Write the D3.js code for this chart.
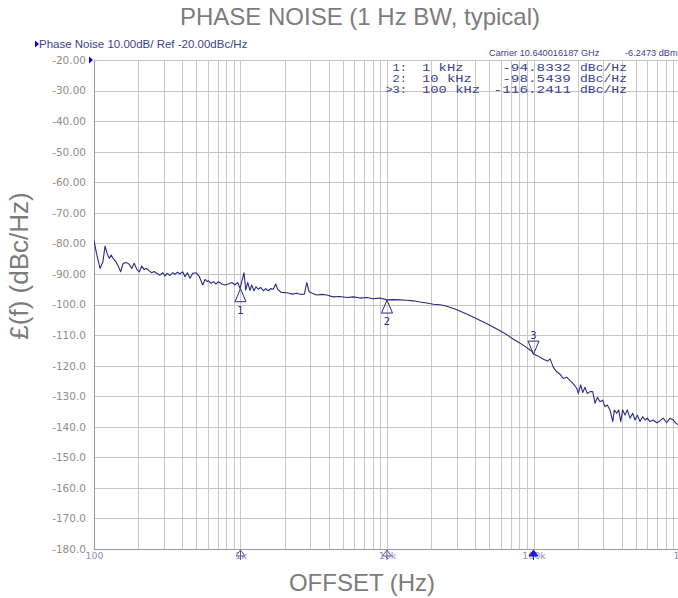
<!DOCTYPE html>
<html>
<head>
<meta charset="utf-8">
<script src="https://cdn.jsdelivr.net/npm/d3@7"></script>
<style>
  body { margin: 0; background: #fff; }
  svg { display: block; }
</style>
</head>
<body>
<div id="chart"></div>
<script>
"use strict";

/* ── Data ── */
const offsetHz = [
  100, 104, 110, 115, 119, 123, 127, 131, 135, 141, 147, 152, 158, 167, 174, 181, 188, 196, 204, 212,
  219, 229, 238, 248, 257, 268, 282, 295, 305, 316, 330, 345, 357, 371, 386, 403, 418, 434, 452, 472,
  497, 524, 552, 573, 593,
  603, 629, 652, 681, 705, 744, 784, 826, 871, 917, 957, 993, 1019, 1057, 1086, 1120, 1161, 1192, 1236, 1276,
  1324, 1374, 1432, 1487, 1549, 1607, 1675, 1738, 1795, 1890, 2012, 2143, 2259, 2421, 2590, 2729, 2834, 2938,
  3092, 3313, 3583,
  3875, 4297, 4775, 5309, 5888, 6546, 7261, 8072, 8954, 9840, 10000, 11040, 12270, 13620, 15140, 16790,
  18670, 20720, 23010,
  24890, 29110, 34040, 39900, 46670, 54580, 63830, 74820, 85110, 97260, 100000, 107900, 116700, 125000,
  129700, 136500, 143900, 151700, 159600, 168500, 177500, 187100, 197200, 202300, 209900, 216700, 224900,
  232800, 243200, 253500, 263000, 272900, 284400, 296500, 307600, 319100, 332700, 347500, 356500, 369800,
  381900, 393600, 406400, 421700, 436500, 456000, 475400, 493200, 511400, 533300, 555900, 576800, 598300,
  623700, 657700, 693400, 729800, 769000, 811000, 855100, 899500, 939700, 984000
];
const noiseDbc = [
  -79.0, -83.3, -88.2, -86.0, -80.9, -83.3, -84.9, -83.8, -84.9, -86.0, -87.6, -89.3, -86.5, -86.3, -86.8, -88.2, -86.5, -88.5, -89.3, -87.4,
  -88.5, -88.2, -89.0, -89.6, -89.2, -89.8, -90.4, -89.6, -90.7, -89.8, -90.5, -89.6, -90.1, -89.4, -90.0, -89.3, -90.9, -89.6, -91.4, -89.8,
  -89.6, -90.9, -93.6, -91.8, -92.5,
  -92.2, -93.1, -92.5, -93.3, -92.5, -93.3, -93.6, -93.3, -92.8, -93.6, -92.8, -94.8, -92.6, -89.6, -95.3, -92.8, -95.4, -93.6, -95.5, -94.2,
  -95.0, -94.4, -95.5, -94.8, -95.5, -94.8, -95.0, -93.3, -95.0, -96.0, -96.1, -96.3, -96.6, -96.3, -96.7, -96.6, -92.8, -95.8,
  -96.3, -96.9, -96.7,
  -96.9, -97.5, -97.4, -97.7, -97.5, -97.9, -97.7, -98.1, -97.9, -98.4, -98.5, -98.4, -98.5, -98.6, -98.8, -99.2,
  -99.5, -99.9, -100.1,
  -100.4, -101.5, -102.9, -104.4, -106.0, -107.7, -109.5, -111.7, -113.3, -115.3, -116.2, -116.9, -117.9, -118.5,
  -117.8, -120.5, -122.0, -122.8, -124.2, -123.8, -124.9, -126.0, -127.4, -129.1, -126.3, -128.8, -127.1,
  -129.1, -128.5, -128.5, -132.3, -130.4, -131.8, -131.3, -133.4, -132.9, -134.5, -138.3, -134.5, -135.6,
  -134.5, -138.3, -134.5, -136.2, -134.5, -137.2, -135.6, -137.8, -136.2, -138.3, -136.7, -137.8, -137.2,
  -138.3, -137.8, -138.7, -138.1, -137.2, -138.7, -137.2, -137.8, -138.9, -139.5
];

const yTicks      = [-20, -30, -40, -50, -60, -70, -80, -90, -100, -110, -120, -130, -140, -150, -160, -170, -180];
const yTickLabels = ["-20.00", "-30.00", "-40.00", "-50.00", "-60.00", "-70.00", "-80.00", "-90.00",
                     "-100.0", "-110.0", "-120.0", "-130.0", "-140.0", "-150.0", "-160.0", "-170.0", "-180.0"];
const xTicks      = [100, 1000, 10000, 100000, 1000000];
const xTickLabels = ["100", "1k", "10k", "100k", "1M"];

const markerIds       = ["1", "2", "3"];
const markerRowLabels = ["1:", "2:", ">3:"];
const markerHz        = [1000, 10000, 100000];
const markerFreqText  = ["1 kHz", "10 kHz", "100 kHz"];
const markerDbc       = [-94.8332, -98.5439, -116.2411];

/* ── Layout ── */
const W = 678, H = 598;
const plot = { left: 94, right: 680, top: 60, bottom: 549 };
const navy = "#2b2b80";
const sans = "'Liberation Sans', Arial, sans-serif";
const inst = "'DejaVu Sans', Verdana, sans-serif";
const mono = "'Liberation Mono', 'Courier New', monospace";

const svg = d3.select("#chart").append("svg")
  .attr("width", W).attr("height", H)
  .style("background", "#fff");

/* ── Scales ── */
const x = d3.scaleLog().domain([100, 1e6]).range([plot.left, plot.right]);
const y = d3.scaleLinear().domain([-180, -20]).range([plot.bottom, plot.top]);

/* ── Grid ── */
const grid = svg.append("g").attr("shape-rendering", "crispEdges");
grid.selectAll(".vgrid").data(x.ticks()).join("line")
  .attr("class", "vgrid")
  .attr("x1", d => Math.round(x(d)) + 0.5).attr("x2", d => Math.round(x(d)) + 0.5)
  .attr("y1", plot.top).attr("y2", plot.bottom)
  .attr("stroke", "#c8c8c8");
grid.selectAll(".hgrid").data(yTicks).join("line")
  .attr("class", "hgrid")
  .attr("x1", plot.left).attr("x2", plot.right)
  .attr("y1", d => Math.round(y(d)) + 0.5).attr("y2", d => Math.round(y(d)) + 0.5)
  .attr("stroke", "#c4c4c4");

/* frame: left + bottom a bit darker */
grid.append("line")
  .attr("x1", plot.left + 0.5).attr("x2", plot.left + 0.5)
  .attr("y1", plot.top).attr("y2", plot.bottom)
  .attr("stroke", "#9a9a9a");
grid.append("line")
  .attr("x1", plot.left).attr("x2", plot.right)
  .attr("y1", plot.bottom + 0.5).attr("y2", plot.bottom + 0.5)
  .attr("stroke", "#9a9a9a");

/* ── Y axis ── */
svg.append("g")
  .attr("transform", `translate(${plot.left},0)`)
  .call(d3.axisLeft(y).tickValues(yTicks).tickSize(0).tickPadding(8)
          .tickFormat((d, i) => yTickLabels[i]))
  .call(g => {
    g.select(".domain").remove();
    g.selectAll(".tick text")
      .attr("fill", "#8e8e8e")
      .attr("font-family", inst)
      .attr("font-size", "10.5px");
  });

/* ── X axis ── */
svg.append("g")
  .attr("transform", `translate(0,${plot.bottom})`)
  .call(d3.axisBottom(x).tickValues(xTicks).tickSize(0).tickPadding(3)
          .tickFormat((d, i) => xTickLabels[i]))
  .call(g => {
    g.select(".domain").remove();
    g.selectAll(".tick text")
      .attr("fill", "#8c92b8")
      .attr("font-family", inst)
      .attr("font-size", "9.5px");
  });

/* reference level arrow next to -20.00 */
svg.append("path")
  .attr("d", `M${plot.left - 5},${y(-20) - 3.5} L${plot.left - 1},${y(-20)} L${plot.left - 5},${y(-20) + 3.5} Z`)
  .attr("fill", "#0000dd");

/* ── Trace ── */
const trace = offsetHz.map((f, i) => ({ f, v: noiseDbc[i] }));
svg.append("clipPath").attr("id", "plot-clip")
  .append("rect")
  .attr("x", plot.left).attr("y", plot.top)
  .attr("width", plot.right - plot.left).attr("height", plot.bottom - plot.top);
svg.append("path")
  .datum(trace)
  .attr("clip-path", "url(#plot-clip)")
  .attr("fill", "none")
  .attr("stroke", navy)
  .attr("stroke-width", 1.1)
  .attr("stroke-linejoin", "round")
  .attr("d", d3.line().x(d => x(d.f)).y(d => y(d.v)));

/* ── Markers on the trace ── */
const markers = markerIds.map((id, i) => ({ id, f: markerHz[i], v: markerDbc[i], active: i === 2 }));
const mk = svg.append("g").attr("class", "markers");
markers.forEach(m => {
  const mx = x(m.f), my = y(m.v);
  const dir = m.active ? -1 : 1;          // active marker sits above the trace
  mk.append("path")
    .attr("d", `M${mx},${my} L${mx - 5.5},${my + dir * 13} L${mx + 5.5},${my + dir * 13} Z`)
    .attr("fill", "none").attr("stroke", navy).attr("stroke-width", 1);
  mk.append("text")
    .attr("x", mx).attr("y", m.active ? my - 15 : my + 25)
    .attr("text-anchor", "middle")
    .attr("fill", navy)
    .attr("font-family", inst).attr("font-size", "10px")
    .text(m.id);

  /* small marker flags on the frequency axis */
  const by = plot.bottom + 1;
  mk.append("path")
    .attr("d", `M${mx},${by} L${mx - 4.5},${by + 6} L${mx + 4.5},${by + 6} Z`)
    .attr("fill", m.active ? "#1a1ad8" : "#fff")
    .attr("stroke", m.active ? "#1a1ad8" : "#5a5aa0").attr("stroke-width", 1);
  mk.append("line")
    .attr("x1", mx).attr("x2", mx).attr("y1", by).attr("y2", by + 10)
    .attr("stroke", m.active ? "#1a1ad8" : "#5a5aa0");
});

/* ── Instrument header ── */
svg.append("path")
  .attr("d", "M35,40.5 L39,44 L35,47.5 Z")
  .attr("fill", "#0000dd");
svg.append("text")
  .attr("x", 39).attr("y", 48)
  .attr("fill", "#3a4290")
  .attr("font-family", sans).attr("font-size", "11.5px")
  .text("Phase Noise 10.00dB/ Ref -20.00dBc/Hz");
svg.append("text")
  .attr("x", 489).attr("y", 56)
  .attr("fill", "#3a4290")
  .attr("font-family", sans).attr("font-size", "9.2px")
  .text("Carrier 10.640016187 GHz");
svg.append("text")
  .attr("x", 625).attr("y", 56)
  .attr("fill", "#3a4290")
  .attr("font-family", sans).attr("font-size", "9.2px")
  .text("-6.2473 dBm");

/* marker table: columns stretched to the instrument's wide mono font */
const table = svg.append("g")
  .attr("fill", "#3a4290")
  .attr("font-family", mono)
  .attr("font-size", "10.5px");
markers.forEach((m, i) => {
  const ty = 70.5 + i * 11.3;
  const idx = markerRowLabels[i], fq = markerFreqText[i], val = markerDbc[i].toFixed(4);
  table.append("text").attr("x", 407).attr("y", ty).attr("text-anchor", "end")
    .attr("textLength", idx.length * 7.2).attr("lengthAdjust", "spacingAndGlyphs").text(idx);
  table.append("text").attr("x", 422).attr("y", ty)
    .attr("textLength", fq.length * 8.3).attr("lengthAdjust", "spacingAndGlyphs").text(fq);
  table.append("text").attr("x", 571).attr("y", ty).attr("text-anchor", "end")
    .attr("textLength", val.length * 8.6).attr("lengthAdjust", "spacingAndGlyphs").text(val);
  table.append("text").attr("x", 580).attr("y", ty)
    .attr("textLength", 47).attr("lengthAdjust", "spacingAndGlyphs").text("dBc/Hz");
});

/* ── Titles ── */
svg.append("text")
  .attr("x", 360).attr("y", 25)
  .attr("text-anchor", "middle")
  .attr("fill", "#7c7c7c")
  .attr("font-family", sans).attr("font-size", "24px")
  .text("PHASE NOISE (1 Hz BW, typical)");

svg.append("text")
  .attr("x", 362).attr("y", 591)
  .attr("text-anchor", "middle")
  .attr("fill", "#7c7c7c")
  .attr("font-family", sans).attr("font-size", "24px")
  .text("OFFSET (Hz)");

svg.append("text")
  .attr("transform", "translate(28,266) rotate(-90)")
  .attr("text-anchor", "middle")
  .attr("fill", "#7c7c7c")
  .attr("font-family", sans).attr("font-size", "26px")
  .text("£(f) (dBc/Hz)");
</script>
</body>
</html>
